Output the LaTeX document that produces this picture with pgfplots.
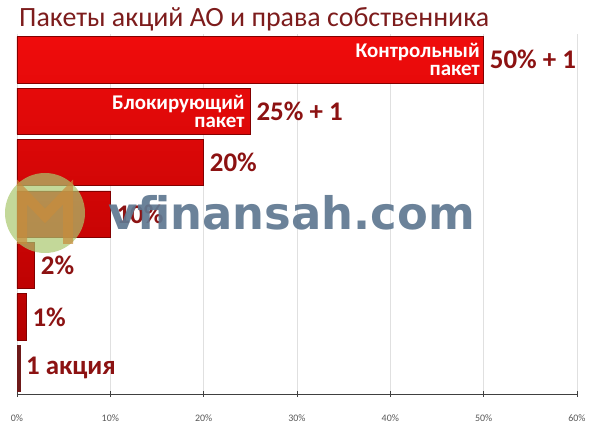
\documentclass[border=0pt]{standalone}
\usepackage{fontspec}
\setmainfont{Carlito}
\newfontfamily\wmfont{DejaVu Sans}
\usepackage{pgfplots}
\pgfplotsset{compat=1.18}
\usepackage{pgfplotstable}
\definecolor{lbl}{RGB}{140,18,18}
\definecolor{titlecol}{RGB}{125,28,28}
\definecolor{bartop}{RGB}{240,12,12}
\definecolor{barbot}{RGB}{180,0,0}
\definecolor{barborder}{RGB}{130,0,0}
\definecolor{darkbar}{RGB}{110,25,25}
\definecolor{wm}{RGB}{95,120,145}
\definecolor{logogreen}{RGB}{170,200,110}
\definecolor{logoorange}{RGB}{200,140,60}

\pgfplotstableread{
y val label
6 50 {50\% + 1}
5 25 {25\% + 1}
4 20 {20\%}
3 10 {10\%}
2 1.9 {2\%}
1 1.0 {1\%}
}\mainbars
\pgfplotstableread{
y val label
0 0.3 {1 акция}
}\sharebar

\begin{document}
\begin{tikzpicture}
\useasboundingbox (0,0) rectangle (600bp,424bp);
\fill[white] (0,0) rectangle (600bp,424bp);
\node[anchor=base west, text=titlecol, font=\fontsize{28}{30}\selectfont, inner sep=0pt] at (19bp,397bp) {Пакеты акций АО и права собственника};
\begin{axis}[
  at={(17bp,30bp)}, anchor=south west,
  scale only axis, width=560bp, height=360bp,
  xmin=0, xmax=60, ymin=-0.5, ymax=6.5,
  axis x line*=bottom, axis y line=none,
  x axis line style={draw=black!75, line width=0.6pt},
  xtick={0,10,...,60},
  xticklabel={\pgfmathprintnumber{\tick}\%},
  /pgf/number format/assume math mode=true,
  xticklabel style={font=\fontsize{10}{11}\selectfont, text=black!65, anchor=center, yshift=-22bp},
  tick align=center, major tick length=5bp,
  tick style={draw=black!75, line width=0.5pt},
  xmajorgrids, grid style={draw=black!12, line width=0.5pt},
  ytick=\empty,
  clip=false,
  nodes near coords,
  point meta=explicit symbolic,
  every node near coord/.style={anchor=west, text=lbl, font=\bfseries\fontsize{27}{28}\selectfont, inner sep=1pt, xshift=5bp},
]
\addplot[xbar, bar width=0.9, bar shift=0pt, draw=barborder, top color=bartop, bottom color=barbot, line width=0.5pt]
  table[x=val, y=y, meta=label] {\mainbars};
\addplot[xbar, bar width=0.9, bar shift=0pt, draw=darkbar, fill=darkbar, line width=0.5pt]
  table[x=val, y=y, meta=label] {\sharebar};
\node[anchor=east, align=right, text=white, font=\bfseries\fontsize{21}{18}\selectfont, inner sep=0pt] at (axis cs:49.6,6) {Контрольный\\пакет};
\node[anchor=east, align=right, text=white, font=\bfseries\fontsize{21}{18}\selectfont, inner sep=0pt] at (axis cs:24.4,5) {Блокирующий\\пакет};
\end{axis}
% watermark
\fill[logogreen, opacity=0.7] (45bp,211bp) circle (40bp);
\draw[logoorange, opacity=0.7, line width=10bp, line join=miter] (22bp,180bp) -- (22bp,232bp) -- (45bp,208bp) -- (68bp,232bp) -- (68bp,180bp);
\node[anchor=base west, inner sep=0pt, text=wm, opacity=0.92, font=\wmfont\bfseries\fontsize{45}{45}\selectfont] at (108bp,194bp) {vfinansah.com};
\end{tikzpicture}
\end{document}
